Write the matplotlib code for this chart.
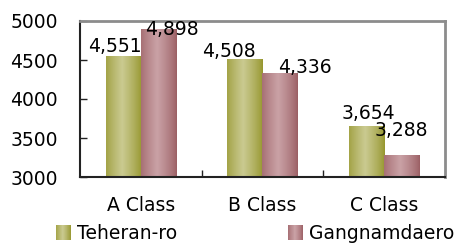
import matplotlib
matplotlib.use("Agg")
import matplotlib.pyplot as plt
import numpy as np
from matplotlib.patches import Rectangle
from matplotlib.legend_handler import HandlerBase

categories = ["A Class", "B Class", "C Class"]
series_names = ["Teheran-ro", "Gangnamdaero"]
teheran = [4551, 4508, 3654]
gangnam = [4898, 4336, 3288]
yticks = [3000, 3500, 4000, 4500, 5000]

# label nudges (points) from bar top centre, mimicking the original placement
teheran_label_off = [(-6, 3), (-11.5, 2), (1, 5)]
gangnam_label_off = [(9.5, -4), (17.5, 0), (0, 13)]

plt.rcParams['font.family'] = ['DejaVu Sans']
FS = 13.5

fig = plt.figure(figsize=(4.56, 2.44), dpi=100)
ax = fig.add_axes([80/456, 1-177/244, (445-80)/456, (177-21)/244])

dark_olive = np.array([150, 150, 45]) / 255
light_olive = np.array([202, 202, 145]) / 255
dark_rose = np.array([155, 95, 100]) / 255
light_rose = np.array([202, 162, 166]) / 255

def gradient(dark, light, n=64):
    t = np.linspace(0, 1, n)
    w = np.clip(1 - np.abs(t - 0.45) / 0.55, 0, 1) ** 0.8
    cols = dark[None, :] * (1 - w[:, None]) + light[None, :] * w[:, None]
    return cols[None, :, :]

x = np.arange(len(categories))
width = 0.29
ax.set_xlim(-0.5, len(categories) - 0.5)
ax.set_ylim(3000, 5000)

grads = [gradient(dark_olive, light_olive), gradient(dark_rose, light_rose)]
offsets = [-width / 2, width / 2]
for vals, grad, off, loffs in zip([teheran, gangnam], grads, offsets,
                                  [teheran_label_off, gangnam_label_off]):
    bars = ax.bar(x + off, [v - 3000 for v in vals], width, bottom=3000,
                  color='none', edgecolor='none')
    for b, v, lo in zip(bars, vals, loffs):
        x0, y0 = b.get_x(), b.get_y()
        w, h = b.get_width(), b.get_height()
        im = ax.imshow(grad, extent=[x0, x0 + w, y0, y0 + h], aspect='auto',
                       interpolation='bilinear', zorder=2)
        im.set_clip_path(b)
        ax.annotate(f"{v:,}", (x0 + w / 2, y0 + h), xytext=lo,
                    textcoords='offset points', ha='center', va='baseline',
                    fontsize=FS, color='black', zorder=5, annotation_clip=False)

ax.set_xlim(-0.5, len(categories) - 0.5)
ax.set_ylim(3000, 5000)
ax.set_yticks(yticks)
ax.set_yticklabels([str(t) for t in yticks], fontsize=FS)
ax.set_xticks(x)
ax.set_xticklabels(categories, fontsize=FS)
ax.tick_params(axis='x', length=0, pad=14)
ax.set_xticks([0.5, 1.5], minor=True)
ax.tick_params(axis='x', which='minor', direction='in', length=5, width=1, color='#222222')
ax.tick_params(axis='y', direction='in', length=5, width=1, color='#222222', pad=16)

for s in ['left', 'bottom']:
    ax.spines[s].set_color('#222222')
    ax.spines[s].set_linewidth(1.5)
for s in ['top', 'right']:
    ax.spines[s].set_color('#8c8c8c')
    ax.spines[s].set_linewidth(2)


class GradientHandler(HandlerBase):
    def __init__(self, grad):
        super().__init__()
        self.grad = grad

    def create_artists(self, legend, orig_handle, xdescent, ydescent,
                       width, height, fontsize, trans):
        n = self.grad.shape[1]
        arts = []
        for i in range(n):
            r = Rectangle((-xdescent + width * i / n, -ydescent), width / n * 1.05,
                          height, facecolor=tuple(self.grad[0, i]),
                          edgecolor='none', transform=trans)
            arts.append(r)
        return arts


handles = [Rectangle((0, 0), 1, 1), Rectangle((0, 0), 1, 1)]
leg = fig.legend(handles, series_names, loc='center left', ncol=2,
                 bbox_to_anchor=(56/456, 1-233.5/244), frameon=False, fontsize=FS,
                 handlelength=0.8, handleheight=0.8, handletextpad=0.32,
                 columnspacing=5.92, borderpad=0, borderaxespad=0,
                 handler_map={handles[0]: GradientHandler(grads[0]),
                              handles[1]: GradientHandler(grads[1])})

fig.savefig("out.png", dpi=100)
